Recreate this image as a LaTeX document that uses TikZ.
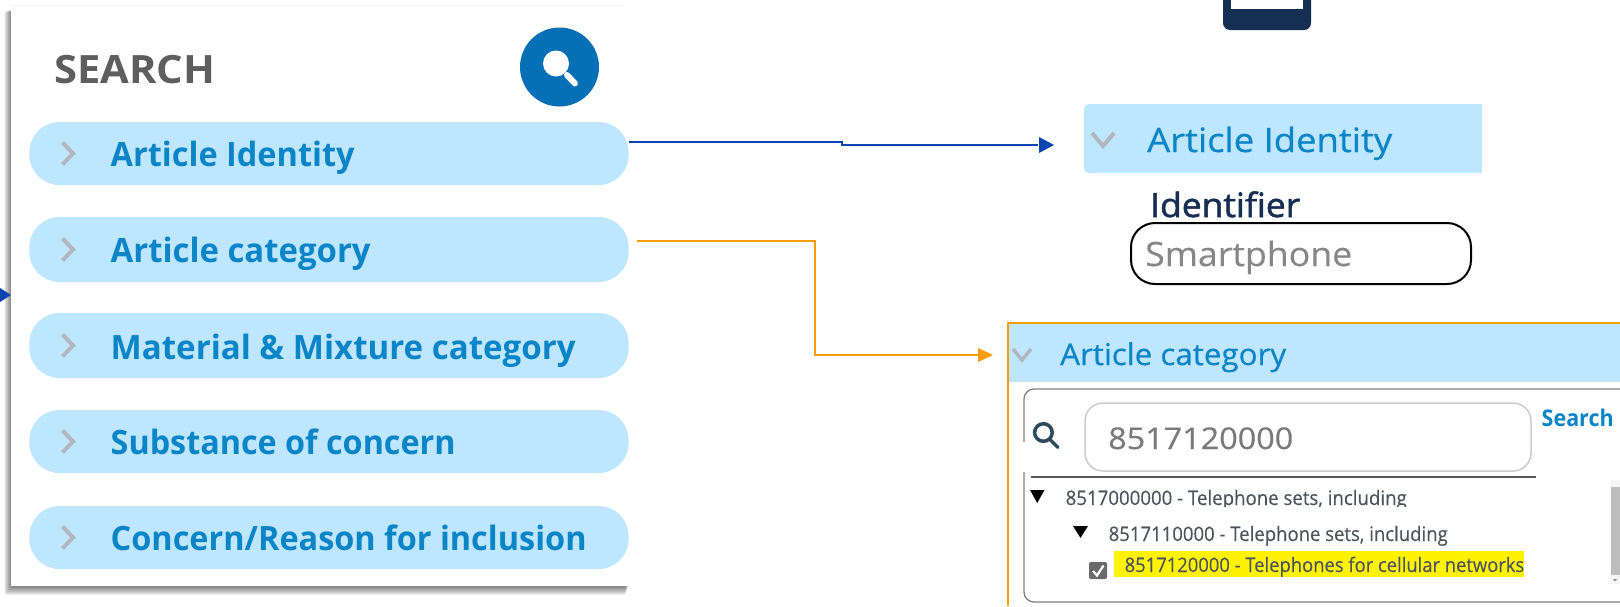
\documentclass[tikz,border=0pt]{standalone}
\usepackage{fontspec}
\usepackage{graphicx}
\setmainfont{Open Sans}
\newfontfamily\medfont[FakeBold=0.6]{Open Sans}
\newfontfamily\semifont[FakeBold=1.6]{Open Sans}
\newfontfamily\softfont[FakeBold=0.3]{Open Sans}
\newcommand\fitw[2]{\resizebox{#1pt}{\height}{#2}}
\definecolor{pillblue}{HTML}{BEE6FE}
\definecolor{pilltext}{HTML}{0A86C8}
\definecolor{chev}{HTML}{AEB8BE}
\definecolor{navy}{HTML}{162D54}
\definecolor{arrblue}{HTML}{0A44B0}
\definecolor{arrorange}{HTML}{FF9C0A}
\definecolor{roundblue}{HTML}{0570B5}
\definecolor{treetext}{HTML}{4C555C}
\definecolor{lens}{HTML}{2E4A5C}
\tikzset{
  pill/.style={fill=pillblue,draw=none,rounded corners=30pt},
  pilllabel/.style={anchor=base west,inner sep=0pt,text=pilltext,font=\fontsize{33.5}{36}\selectfont\bfseries},
  barlabel/.style={anchor=base west,inner sep=0pt,text=pilltext,font=\fontsize{33.5}{36}\selectfont\medfont},
  chevron/.style={draw=chev,line width=4pt,line cap=butt},
  treelabel/.style={anchor=base west,inner sep=0pt,text=treetext,font=\fontsize{20}{24}\selectfont\softfont},
  tri/.style={fill=black,draw=none}
}
\begin{document}
\begin{tikzpicture}[x=1pt,y=-1pt]
\useasboundingbox (0,0) rectangle (1620,606);
\clip (0,0) rectangle (1620,606);
\fill[white] (0,0) rectangle (1620,606);
% panel shadow
\foreach \i in {1,...,9}{
  \fill[black,opacity=0.065,rounded corners=2pt] (12-0.85*\i,9+0.3*\i) rectangle (629-0.4*\i,586+\i);
}
\fill[white] (11,5) rectangle (630,586);
\draw[black!4,line width=0.8pt] (11,5) -- (625,5);
% left arrow tip
\fill[arrblue] (0,288) -- (11,295) -- (0,302) -- cycle;
% heading
\node[anchor=base west,inner sep=0pt,text=black!63] (searchtitle) at (54,83)
  {\fitw{161}{\fontsize{39}{40}\selectfont\bfseries SEARCH}};
\fill[roundblue] (559.5,67) circle (39.5);
\fill[white] (556,63.5) circle (13);
\draw[white,line width=6pt,line cap=round] (567,75) -- (575,83.5);
% pills
\fill[pill] (29.4,122) rectangle (628.6,185);
\fill[pill] (29.4,217) rectangle (628.6,282);
\fill[pill] (29.4,313) rectangle (628.6,378);
\fill[pill] (29.4,410) rectangle (628.6,473);
\fill[pill] (29.4,506) rectangle (628.6,569);
\coordinate (pA) at (628.6,142);
\coordinate (pB) at (637,240.7);
\foreach \y in {153.5,249.5,345.5,441.5,537.5}{
  \draw[chevron] (62.5,\y-11) -- (73,\y) -- (62.5,\y+11);
}
\node[pilllabel] (l1) at (110.5,166) {\fitw{244}{Article Identity}};
\node[pilllabel] (l2) at (110.5,262) {\fitw{260}{Article category}};
\node[pilllabel] (l3) at (110.5,359) {\fitw{465}{Material \& Mixture category}};
\node[pilllabel] (l4) at (110.5,454) {\fitw{345}{Substance of concern}};
\node[pilllabel] (l5) at (110.5,550) {\fitw{476}{Concern/Reason for inclusion}};
% device
\fill[navy,rounded corners=7pt] (1223,-20) rectangle (1311,30);
\fill[white] (1231,-5) rectangle (1303,9);
% article identity
\fill[pillblue,rounded corners=0pt] (1090,104) rectangle (1482,173);
\fill[pillblue,rounded corners=5pt] (1084,104) rectangle (1100,173);
\draw[chev,line width=4pt] (1092,133) -- (1103,146) -- (1114,133);
\node[barlabel] (ai) at (1147,152) {\fitw{245}{Article Identity}};
\node[anchor=base west,inner sep=0pt,text=navy,font=\fontsize{33.5}{36}\selectfont\semifont] (idf) at (1150,217) {\fitw{150}{Identifier}};
\node[anchor=base west,inner sep=0pt,text=black!47,font=\fontsize{33.5}{36}\selectfont\softfont] (sm) at (1145,266) {\fitw{207}{Smartphone}};
\draw[black,line width=2pt,rounded corners=24pt] (1131,223) rectangle (1471,284);
% article category panel
\fill[pillblue] (1008,323) rectangle (1620,382);
\draw[arrorange,line width=2pt] (1620,323) -- (1008,323) -- (1008,606);
\draw[chev,line width=3.5pt] (1013,349) -- (1022,360) -- (1031,349);
\node[barlabel,font=\fontsize{30}{34}\selectfont\medfont] (ac) at (1060,365) {\fitw{226}{Article category}};
\draw[black!50,line width=1.3pt,rounded corners=10pt] (1640,389) -- (1024,389) -- (1024,602) -- (1640,602);
\fill[white] (1022,442) rectangle (1026,472);
\draw[black!20,line width=1.5pt,rounded corners=18pt] (1085,403) rectangle (1531,471);
\node[anchor=base west,inner sep=0pt,text=black!52,font=\fontsize{30}{34}\selectfont\softfont] (num) at (1108,449) {\fitw{185}{8517120000}};
\node[anchor=base west,inner sep=0pt,text=pilltext,font=\fontsize{23}{26}\selectfont\bfseries] (srch) at (1541.5,426) {\fitw{72}{Search}};
\draw[lens,line width=3.5pt] (1043.4,432.5) circle (8.8);
\draw[lens,line width=3.5pt,line cap=round] (1050,439.5) -- (1058,447.5);
\draw[black!65,line width=1.8pt] (1031,477) -- (1536,477);
% tree
\fill[tri] (1030,490) -- (1044.5,490) -- (1037.2,503) -- cycle;
\begin{scope}
\clip (1060,480) rectangle (1420,506.5);
\node[treelabel] (t1) at (1065.5,505) {\fitw{341}{8517000000 - Telephone sets, including}};
\end{scope}
\fill[tri] (1073,526) -- (1088,526) -- (1080.5,538) -- cycle;
\node[treelabel] (t2) at (1108.5,541) {\fitw{339}{8517110000 - Telephone sets, including}};
\fill[yellow] (1114,551) rectangle (1524,577);
\node[treelabel] (t3) at (1124.5,572) {\fitw{399.5}{8517120000 - Telephones for cellular networks}};
\fill[black!58,rounded corners=2pt] (1089,562) rectangle (1107,579);
\draw[white,line width=2.2pt] (1093,571) -- (1097,575.5) -- (1103.5,565.5);
% scrollbar
\fill[black!4] (1610,480) rectangle (1620,584);
\fill[black!26] (1611,487) rectangle (1619.5,575);
\fill[black!45] (1613,579) -- (1617,579) -- (1615,581.5) -- cycle;
% connectors
\coordinate (aiL) at (1054,145);
\coordinate (acL) at (993,355);
\draw[arrblue,line width=2pt] (pA) -- (842,142) -- (842,145) -- (1038,145);
\fill[arrblue] (1039,137) -- (aiL) -- (1039,153) -- cycle;
\draw[arrorange,line width=2pt] (pB) -- (815,240.7) -- (815,355) -- (978,355);
\fill[arrorange] (978,348) -- (acL) -- (978,362) -- cycle;
\end{tikzpicture}
\end{document}
